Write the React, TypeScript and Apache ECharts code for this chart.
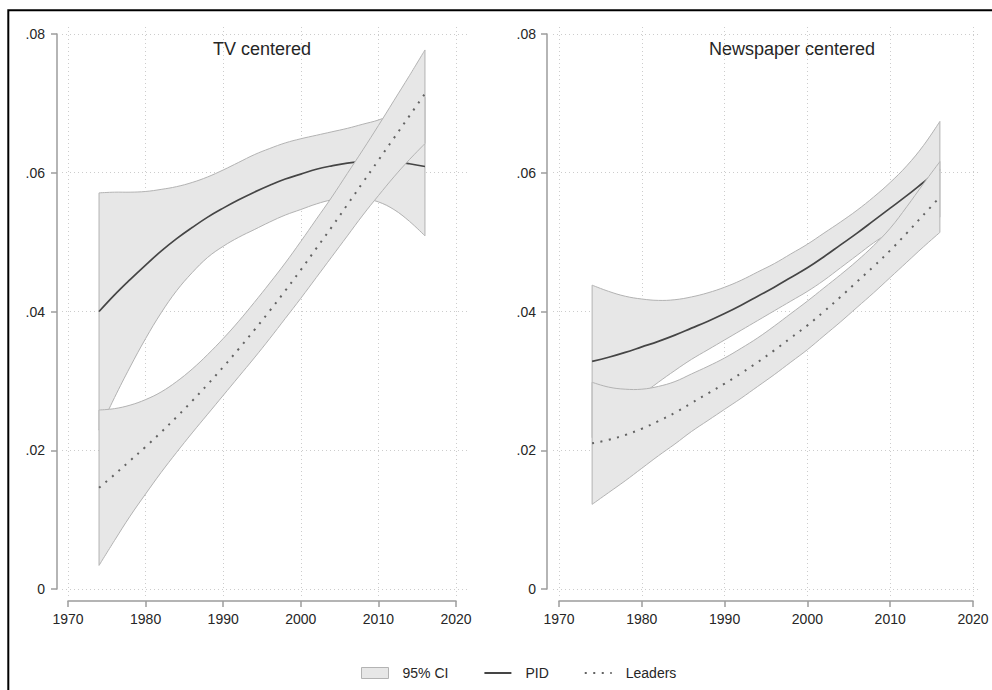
import React, { useEffect, useRef } from "react";
import * as echarts from "echarts";

// ---------- data ----------
const years = [1974, 1976, 1978, 1980, 1982, 1984, 1986, 1988, 1990, 1992, 1994, 1996, 1998, 2000, 2002, 2004, 2006, 2008, 2010, 2012, 2014, 2016];

// TV centered
const tvPid = [0.0400, 0.0424, 0.0446, 0.0467, 0.0487, 0.0505, 0.0521, 0.0536, 0.0549, 0.0561, 0.0572, 0.0582, 0.0591, 0.0598, 0.0605, 0.0610, 0.0614, 0.0616, 0.0617, 0.0616, 0.0613, 0.0609];
const tvPidHi = [0.0571, 0.0572, 0.0572, 0.0573, 0.0576, 0.0580, 0.0586, 0.0594, 0.0604, 0.0615, 0.0626, 0.0635, 0.0643, 0.0649, 0.0654, 0.0659, 0.0664, 0.0670, 0.0676, 0.0685, 0.0696, 0.0709];
const tvPidLo = [0.0229, 0.0276, 0.0320, 0.0361, 0.0398, 0.0430, 0.0456, 0.0478, 0.0494, 0.0507, 0.0518, 0.0529, 0.0539, 0.0547, 0.0555, 0.0561, 0.0564, 0.0563, 0.0558, 0.0547, 0.0530, 0.0509];
const tvLeaders = [0.0146, 0.0165, 0.0185, 0.0205, 0.0226, 0.0248, 0.0271, 0.0295, 0.0320, 0.0346, 0.0373, 0.0401, 0.0430, 0.0460, 0.0491, 0.0522, 0.0554, 0.0586, 0.0618, 0.0650, 0.0682, 0.0714];
const tvLeadersHi = [0.0258, 0.0260, 0.0265, 0.0273, 0.0284, 0.0299, 0.0317, 0.0338, 0.0361, 0.0386, 0.0413, 0.0441, 0.0470, 0.0501, 0.0533, 0.0565, 0.0599, 0.0633, 0.0668, 0.0704, 0.0740, 0.0777];
const tvLeadersLo = [0.0034, 0.0070, 0.0105, 0.0137, 0.0168, 0.0197, 0.0225, 0.0252, 0.0279, 0.0306, 0.0333, 0.0361, 0.0390, 0.0419, 0.0449, 0.0479, 0.0509, 0.0539, 0.0567, 0.0594, 0.0619, 0.0642];

// Newspaper centered
const npPid = [0.0328, 0.0334, 0.0341, 0.0349, 0.0357, 0.0366, 0.0376, 0.0386, 0.0397, 0.0409, 0.0422, 0.0435, 0.0449, 0.0463, 0.0479, 0.0496, 0.0513, 0.0531, 0.0549, 0.0567, 0.0586, 0.0605];
const npPidHi = [0.0438, 0.0429, 0.0422, 0.0418, 0.0416, 0.0417, 0.0421, 0.0427, 0.0435, 0.0445, 0.0457, 0.0469, 0.0483, 0.0497, 0.0513, 0.0529, 0.0546, 0.0565, 0.0586, 0.0610, 0.0639, 0.0674];
const npPidLo = [0.0218, 0.0239, 0.0260, 0.0280, 0.0298, 0.0315, 0.0331, 0.0345, 0.0359, 0.0373, 0.0387, 0.0401, 0.0415, 0.0429, 0.0445, 0.0463, 0.0481, 0.0499, 0.0514, 0.0525, 0.0532, 0.0536];
const npLeaders = [0.0210, 0.0215, 0.0222, 0.0231, 0.0242, 0.0254, 0.0268, 0.0282, 0.0296, 0.0311, 0.0327, 0.0344, 0.0362, 0.0380, 0.0400, 0.0421, 0.0443, 0.0465, 0.0488, 0.0513, 0.0539, 0.0565];
const npLeadersHi = [0.0298, 0.0291, 0.0288, 0.0288, 0.0292, 0.0299, 0.0310, 0.0321, 0.0333, 0.0347, 0.0362, 0.0379, 0.0397, 0.0415, 0.0434, 0.0453, 0.0473, 0.0495, 0.0520, 0.0551, 0.0584, 0.0616];
const npLeadersLo = [0.0122, 0.0139, 0.0156, 0.0174, 0.0192, 0.0209, 0.0227, 0.0243, 0.0259, 0.0275, 0.0292, 0.0309, 0.0327, 0.0345, 0.0365, 0.0385, 0.0406, 0.0427, 0.0449, 0.0471, 0.0493, 0.0514];

const xTicks = [1970, 1980, 1990, 2000, 2010, 2020];
const yTicks = [0, 0.02, 0.04, 0.06, 0.08];
const yTickLabels = ["0", ".02", ".04", ".06", ".08"];
const panelTitles = ["TV centered", "Newspaper centered"];
const legendNames = ["95% CI", "PID", "Leaders"];

// ---------- styles ----------
const FONT = "'Liberation Sans', Arial, Helvetica, sans-serif";
const BAND_FILL = "#e7e7e7";
const BAND_EDGE = "#b3b3b3";
const PID_COLOR = "#454545";
const LEADERS_COLOR = "#636363";
const AXIS_COLOR = "#9c9c9c";
const GRID_COLOR = "#cccccc";
const TEXT_COLOR = "#262626";

function band(name: string, axisIndex: number, lo: number[], hi: number[], z: number) {
  return {
    type: "custom",
    name,
    xAxisIndex: axisIndex,
    yAxisIndex: axisIndex,
    silent: true,
    z,
    itemStyle: { color: BAND_FILL },
    data: years.map((yr, i) => [yr, lo[i], hi[i]]),
    encode: { x: 0, y: [1, 2] },
    renderItem: (params: any, api: any) => {
      if (params.dataIndex !== 0) return null;
      const top = years.map((yr, i) => api.coord([yr, hi[i]]));
      const bottom = years.map((yr, i) => api.coord([yr, lo[i]]));
      const outline = top.concat(bottom.slice().reverse());
      const n = years.length - 1;
      const edge = { stroke: BAND_EDGE, lineWidth: 1, fill: "none" };
      return {
        type: "group",
        children: [
          { type: "polygon", shape: { points: outline }, style: { fill: BAND_FILL, stroke: "none" } },
          { type: "polyline", shape: { points: top, smooth: 0.4 }, style: edge },
          { type: "polyline", shape: { points: bottom, smooth: 0.4 }, style: edge },
          { type: "line", shape: { x1: top[0][0], y1: top[0][1], x2: bottom[0][0], y2: bottom[0][1] }, style: edge },
          { type: "line", shape: { x1: top[n][0], y1: top[n][1], x2: bottom[n][0], y2: bottom[n][1] }, style: edge },
        ],
      };
    },
  };
}

function curve(name: string, axisIndex: number, values: number[], dotted: boolean, z: number) {
  return {
    type: "line",
    name,
    xAxisIndex: axisIndex,
    yAxisIndex: axisIndex,
    data: years.map((yr, i) => [yr, values[i]]),
    smooth: 0.4,
    symbol: "none",
    silent: true,
    z,
    lineStyle: dotted
      ? { color: LEADERS_COLOR, width: 2, type: [2, 6.5] }
      : { color: PID_COLOR, width: 1.7 },
    itemStyle: { color: dotted ? LEADERS_COLOR : PID_COLOR },
  };
}

// layout of the two panels (plot region for grid lines, axis region for the scales)
const panels = [
  { split: { left: 62, top: 27, width: 406, height: 569 }, xr: [1969.227, 2021.546], main: { left: 68, top: 34, width: 388, height: 555 }, yOff: 11, yMargin: 12, titleX: 262 },
  { split: { left: 553, top: 27, width: 428, height: 569 }, xr: [1969.275, 2020.966], main: { left: 559, top: 34, width: 414, height: 555 }, yOff: 12, yMargin: 11, titleX: 792 },
];
const yr = [-0.001009, 0.081009];

export default function App() {
  const ref = useRef<HTMLDivElement>(null);
  useEffect(() => {
    document.body.style.margin = "0";
    if (!ref.current) return;
    const chart = echarts.init(ref.current, undefined, { renderer: "svg" });

    const grids: any[] = [];
    const xAxes: any[] = [];
    const yAxes: any[] = [];
    panels.forEach((p, k) => {
      grids.push({ ...p.split, containLabel: false });
      grids.push({ ...p.main, containLabel: false });
      const gs = k * 2;
      const gm = k * 2 + 1;
      xAxes.push({
        gridIndex: gs, type: "value", min: p.xr[0], max: p.xr[1],
        axisLine: { show: false }, axisLabel: { show: false },
        axisTick: { show: false, customValues: xTicks },
        splitLine: { show: true, lineStyle: { color: GRID_COLOR, width: 1, type: [1, 3] } },
      });
      xAxes.push({
        gridIndex: gm, type: "value", min: 1970, max: 2020, interval: 10, offset: 12,
        axisLine: { show: true, onZero: false, lineStyle: { color: AXIS_COLOR, width: 1.5 } },
        axisTick: { show: true, length: 6, lineStyle: { color: AXIS_COLOR, width: 1.5 } },
        axisLabel: { show: true, margin: 11, fontSize: 14, color: TEXT_COLOR, fontFamily: FONT, formatter: (v: number) => String(v) },
        splitLine: { show: false },
      });
      yAxes.push({
        gridIndex: gs, type: "value", min: yr[0], max: yr[1],
        axisLine: { show: false }, axisLabel: { show: false },
        axisTick: { show: false, customValues: yTicks },
        splitLine: { show: true, lineStyle: { color: GRID_COLOR, width: 1, type: [1, 3] } },
      });
      yAxes.push({
        gridIndex: gm, type: "value", min: 0, max: 0.08, interval: 0.02, offset: p.yOff,
        axisLine: { show: true, onZero: false, lineStyle: { color: AXIS_COLOR, width: 1.5 } },
        axisTick: { show: true, length: 6, lineStyle: { color: AXIS_COLOR, width: 1.5 } },
        axisLabel: {
          show: true, margin: p.yMargin, fontSize: 14, color: TEXT_COLOR, fontFamily: FONT,
          formatter: (v: number) => {
            const i = yTicks.findIndex((t) => Math.abs(t - v) < 1e-9);
            return i >= 0 ? yTickLabels[i] : "";
          },
        },
        splitLine: { show: false },
      });
    });

    const option: any = {
      animation: false,
      backgroundColor: "#ffffff",
      grid: grids,
      xAxis: xAxes,
      yAxis: yAxes,
      legend: {
        left: 361, top: 666, padding: 0, itemWidth: 27, itemHeight: 11, itemGap: 35,
        selectedMode: false,
        textStyle: { fontSize: 14, color: TEXT_COLOR, fontFamily: FONT, padding: [0, 0, 0, 9] },
        data: [
          { name: legendNames[0], icon: "rect", itemStyle: { color: BAND_FILL, borderColor: BAND_EDGE, borderWidth: 1 } },
          { name: legendNames[1], itemStyle: { opacity: 0 } },
          { name: legendNames[2], itemStyle: { opacity: 0 } },
        ],
      },
      graphic: [
        { type: "rect", silent: true, shape: { x: 8.3, y: 10.3, width: 1200, height: 1000 }, style: { fill: "none", stroke: "#000000", lineWidth: 2 } },
        ...panels.map((p, k) => ({
          type: "text", silent: true, x: p.titleX, y: 48.5,
          style: { text: panelTitles[k], fontSize: 18, fontFamily: FONT, fill: TEXT_COLOR, textAlign: "center", textVerticalAlign: "middle" },
        })),
      ],
      series: [
        band(legendNames[0], 1, tvPidLo, tvPidHi, 2),
        curve(legendNames[1], 1, tvPid, false, 3),
        band(legendNames[0], 1, tvLeadersLo, tvLeadersHi, 4),
        curve(legendNames[2], 1, tvLeaders, true, 5),
        band(legendNames[0], 3, npPidLo, npPidHi, 2),
        curve(legendNames[1], 3, npPid, false, 3),
        band(legendNames[0], 3, npLeadersLo, npLeadersHi, 4),
        curve(legendNames[2], 3, npLeaders, true, 5),
      ],
    };
    chart.setOption(option);
    return () => chart.dispose();
  }, []);
  return <div ref={ref} style={{ width: 992, height: 690 }} />;
}
